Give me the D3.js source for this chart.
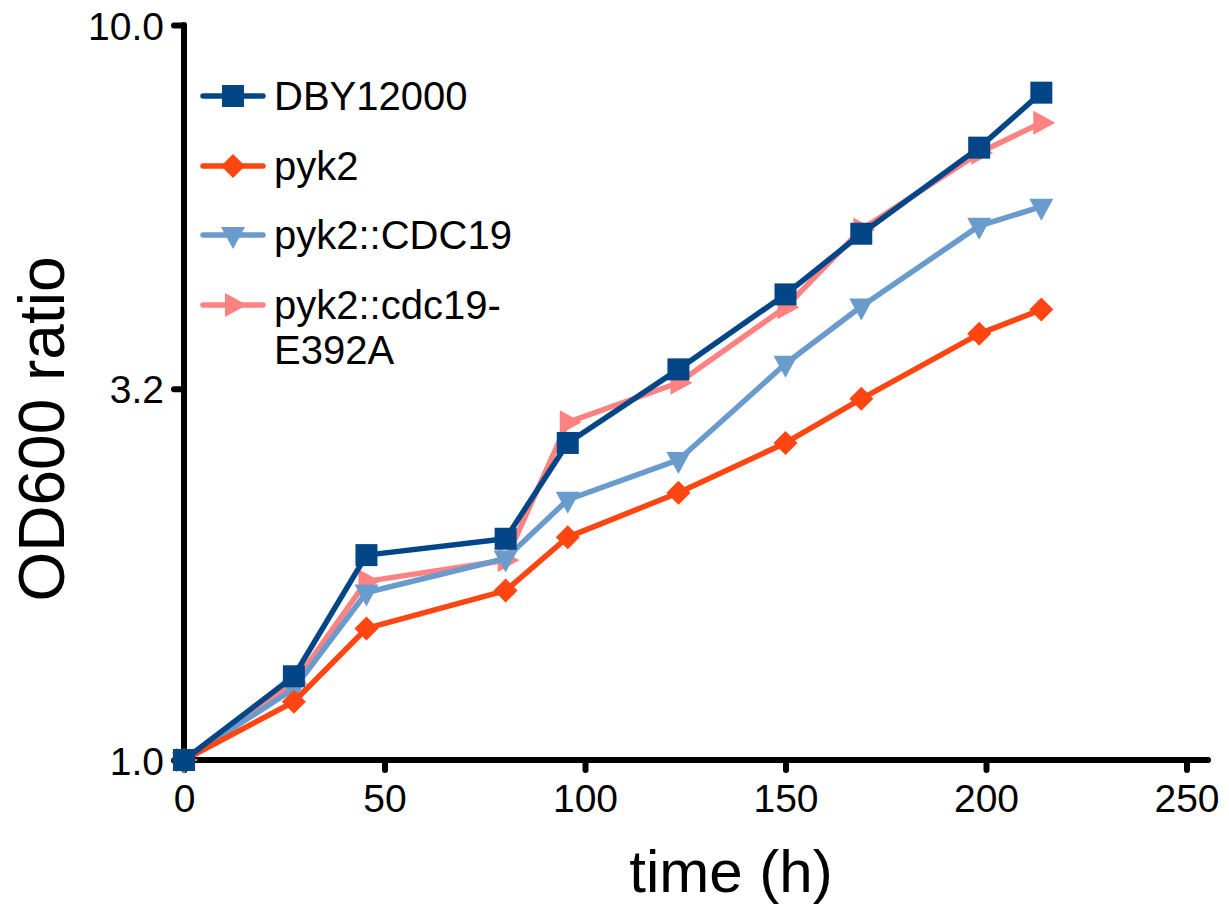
<!DOCTYPE html>
<html>
<head>
<meta charset="utf-8">
<script src="https://cdn.jsdelivr.net/npm/d3@7"></script>
<style>
  html, body { margin: 0; padding: 0; background: #fff; }
  svg { display: block; font-family: "Liberation Sans", Arial, sans-serif; }
</style>
</head>
<body>
<svg id="chart" width="1229" height="907"></svg>
<script>
// ---- data ----
const timeH = [0, 27.4, 45.5, 80.2, 95.7, 123.3, 150, 168.9, 198.3, 213.8];
const seriesNames = ["DBY12000", "pyk2", "pyk2::CDC19", "pyk2::cdc19-E392A"];
const dby12000   = [1.0, 1.30, 1.90, 2.00, 2.70, 3.40, 4.30, 5.20, 6.81, 8.09];
const pyk2       = [1.0, 1.20, 1.51, 1.70, 2.01, 2.31, 2.70, 3.10, 3.80, 4.10];
const pyk2CDC19  = [1.0, 1.25, 1.69, 1.88, 2.26, 2.56, 3.46, 4.14, 5.33, 5.66];
const pyk2E392A  = [1.0, 1.27, 1.75, 1.87, 2.88, 3.26, 4.13, 5.27, 6.70, 7.36];
const xTicks = [0, 50, 100, 150, 200, 250];
const yTicks = [1.0, 3.2, 10.0];
const yTickLabels = ["1.0", "3.2", "10.0"];
const colors = ["#034687", "#FF4512", "#6A9BCD", "#FF8282"];
const markers = ["square", "diamond", "triDown", "triRight"];

const svg = d3.select("#chart");
const x0 = 184, y0 = 760;
const x = d3.scaleLinear().domain([0, 250]).range([x0, 1186.5]);
const y = d3.scaleLog().domain([1, 10]).range([y0, 25]);

const values = [dby12000, pyk2, pyk2CDC19, pyk2E392A];

function markerPath(type) {
  const p = d3.path();
  if (type === "square") { p.rect(-11, -11, 22, 22); }
  else if (type === "diamond") { p.moveTo(0, -12); p.lineTo(12, 0); p.lineTo(0, 12); p.lineTo(-12, 0); p.closePath(); }
  else if (type === "triDown") { p.moveTo(-12, -8); p.lineTo(12, -8); p.lineTo(0, 14); p.closePath(); }
  else if (type === "triRight") { p.moveTo(-8, -12); p.lineTo(-8, 12); p.lineTo(14, 0); p.closePath(); }
  return p.toString();
}

// ---- axes ----
const axisG = svg.append("g");
const xAxis = d3.axisBottom(x).tickValues(xTicks).tickSize(10).tickPadding(14).tickFormat(d3.format("d"));
const gx = axisG.append("g").attr("transform", `translate(0,${y0})`).call(xAxis);
gx.select(".domain").remove();
gx.selectAll(".tick line").attr("stroke", "#000").attr("stroke-width", 6).attr("stroke-linecap", "round");
gx.selectAll(".tick text").attr("font-size", 39).attr("fill", "#000").attr("font-family", "Liberation Sans, Arial, sans-serif");

const yAxis = d3.axisLeft(y).tickValues(yTicks).tickSize(10).tickPadding(10).tickFormat((d, i) => yTickLabels[i]);
const gy = axisG.append("g").attr("transform", `translate(${x0},0)`).call(yAxis);
gy.select(".domain").remove();
gy.selectAll(".tick line").attr("stroke", "#000").attr("stroke-width", 6).attr("stroke-linecap", "round");
gy.selectAll(".tick text").attr("font-size", 39).attr("fill", "#000").attr("font-family", "Liberation Sans, Arial, sans-serif").attr("dy", "0.36em");

// axis lines
axisG.append("line").attr("x1", x0).attr("x2", 1208).attr("y1", y0).attr("y2", y0)
  .attr("stroke", "#000").attr("stroke-width", 6).attr("stroke-linecap", "round");
axisG.append("line").attr("x1", x0).attr("x2", x0).attr("y1", y(10)).attr("y2", y0)
  .attr("stroke", "#000").attr("stroke-width", 6).attr("stroke-linecap", "round");

// axis titles
svg.append("text").attr("x", 731).attr("y", 892).attr("text-anchor", "middle")
  .attr("font-size", 60).attr("fill", "#000").text("time (h)");
svg.append("text").attr("transform", "translate(64,429) rotate(-90)").attr("text-anchor", "middle")
  .attr("font-size", 64).attr("fill", "#000").text("OD600 ratio");

// ---- series (drawn in reverse so DBY12000 is on top) ----
const line = d3.line().x((d, i) => x(timeH[i])).y(d => y(d));
for (let s = values.length - 1; s >= 0; s--) {
  const g = svg.append("g");
  g.append("path").datum(values[s]).attr("d", line).attr("fill", "none")
    .attr("stroke", colors[s]).attr("stroke-width", 5.5).attr("stroke-linejoin", "round");
  g.selectAll("path.mk").data(values[s]).join("path").attr("class", "mk")
    .attr("transform", (d, i) => `translate(${x(timeH[i])},${y(d)})`)
    .attr("d", markerPath(markers[s])).attr("fill", colors[s]);
}

// ---- legend ----
const legend = svg.append("g");
const legendY = [96, 166, 235, 305];
seriesNames.forEach((name, i) => {
  const g = legend.append("g").attr("transform", `translate(0,${legendY[i]})`);
  g.append("line").attr("x1", 203).attr("x2", 263).attr("y1", 0).attr("y2", 0)
    .attr("stroke", colors[i]).attr("stroke-width", 5.5).attr("stroke-linecap", "round");
  g.append("path").attr("transform", "translate(233,0)").attr("d", markerPath(markers[i])).attr("fill", colors[i]);
  const t = g.append("text").attr("x", 274).attr("y", 0).attr("dy", "0.36em")
    .attr("font-size", 40).attr("fill", "#000");
  if (name === "pyk2::cdc19-E392A") {
    t.append("tspan").attr("x", 274).text("pyk2::cdc19-");
    t.append("tspan").attr("x", 274).attr("dy", "1.12em").text("E392A");
  } else {
    t.text(name);
  }
});
</script>
</body>
</html>
